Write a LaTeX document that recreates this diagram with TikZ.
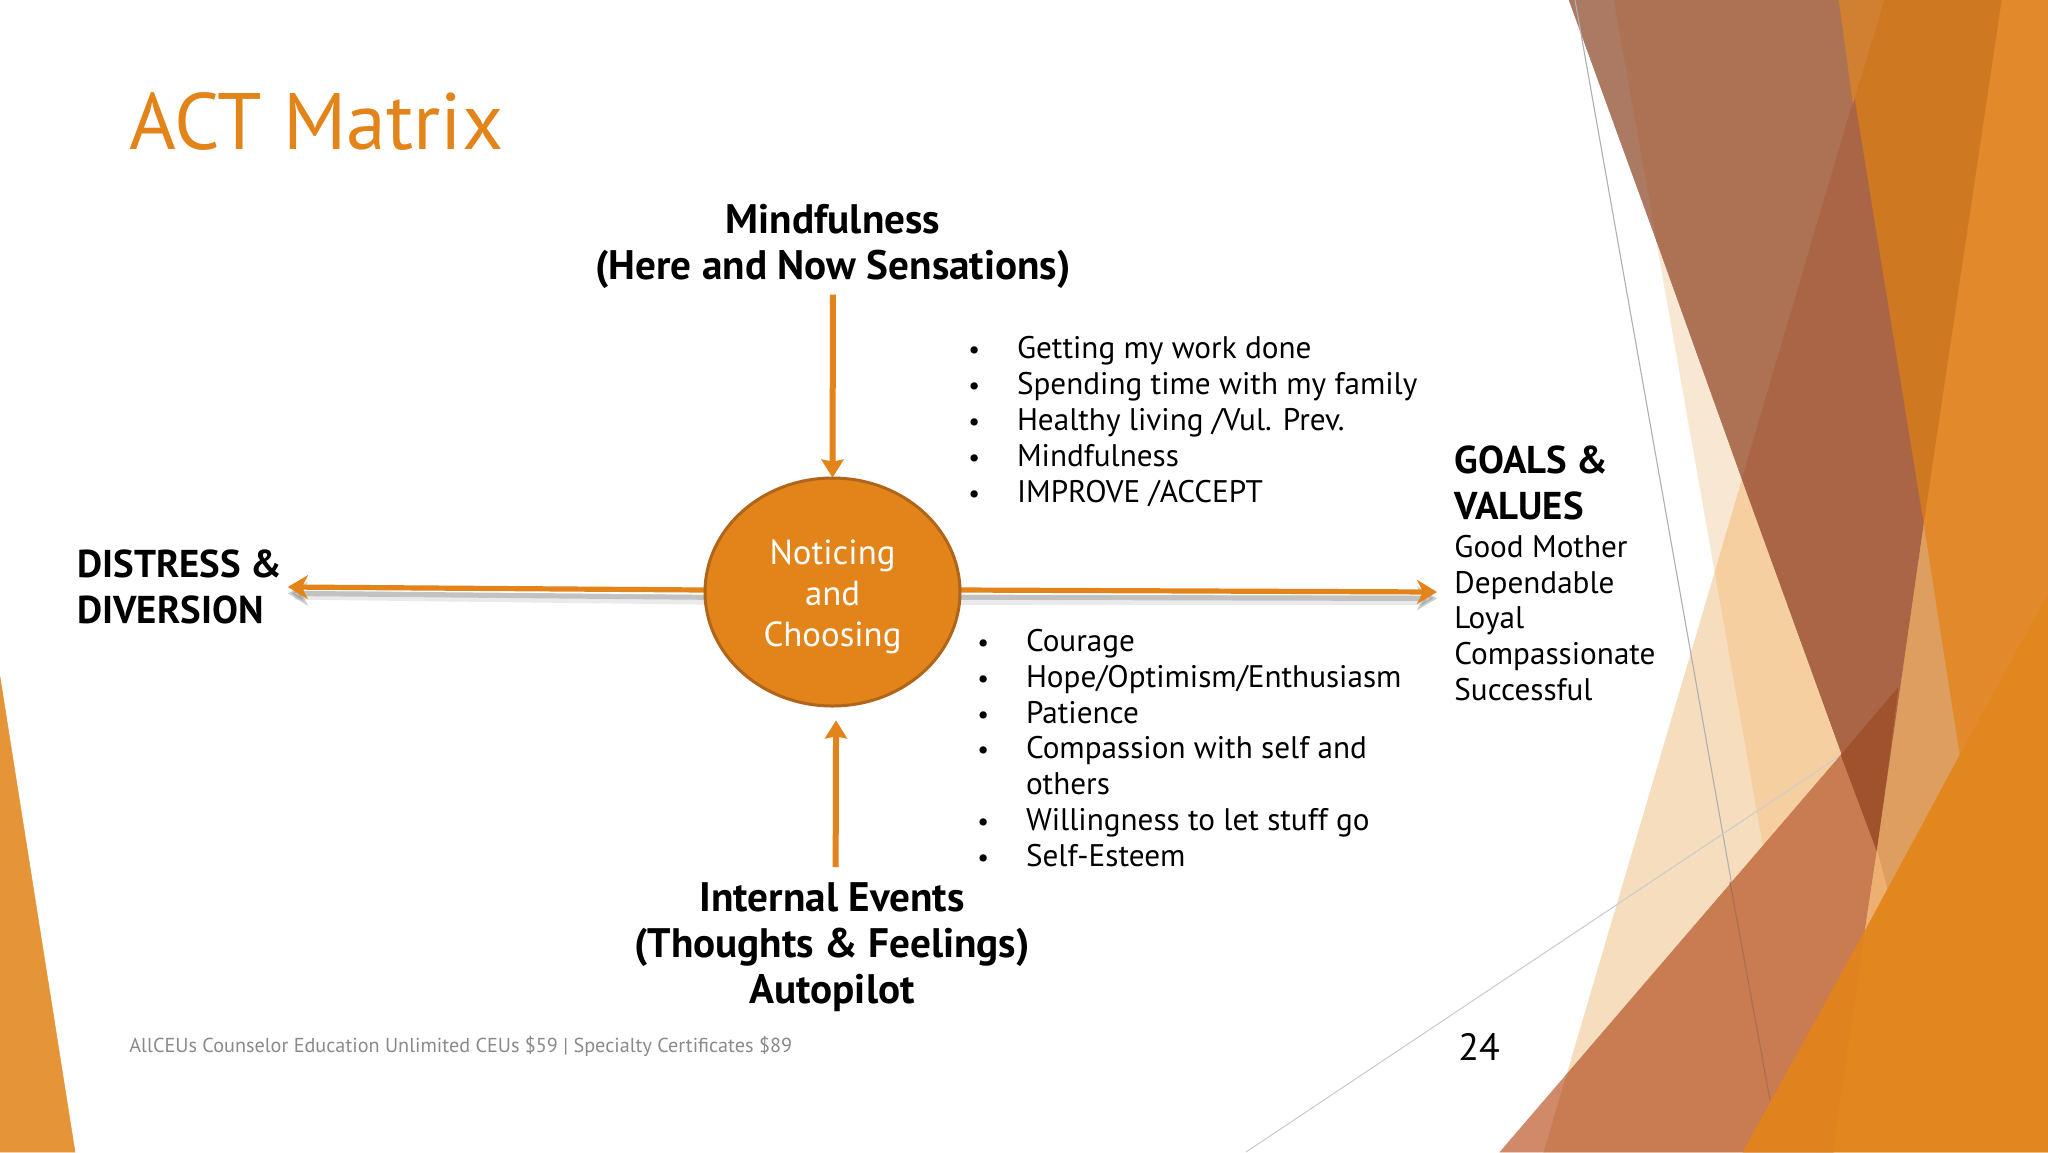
\documentclass[tikz,border=0pt]{standalone}
\usepackage{fontspec}
\setmainfont{PT Sans}
\usetikzlibrary{arrows.meta,calc,shapes.geometric}
\definecolor{acOrange}{HTML}{E28419}
\definecolor{acRing}{HTML}{B0651A}
\definecolor{acFoot}{HTML}{8A8A8A}
\definecolor{dLeft}{RGB}{229,149,55}
\definecolor{dA}{RGB}{248,232,211}
\definecolor{dB}{RGB}{245,221,189}
\definecolor{dAB}{RGB}{245,207,160}
\definecolor{dBrownA}{RGB}{172,122,98}
\definecolor{dBrownB}{RGB}{172,114,83}
\definecolor{dBrownC}{RGB}{170,101,70}
\definecolor{dLow}{RGB}{208,138,106}
\definecolor{dLowB}{RGB}{201,123,82}
\definecolor{dLowDark}{RGB}{160,82,45}
\definecolor{dStrip}{RGB}{222,158,96}
\definecolor{dWedge}{RGB}{237,176,112}
\definecolor{dDarkO}{RGB}{207,120,34}
\definecolor{dDarkOb}{RGB}{208,128,48}
\definecolor{dLightO}{RGB}{226,138,43}
\definecolor{dBotA}{RGB}{224,131,30}
\definecolor{dBotB}{RGB}{226,134,30}
\newlength{\bulw}
\setlength{\bulw}{24.3pt}
\newcommand{\bul}[1]{\makebox[\bulw][l]{{\fontsize{13}{13}\selectfont •}}#1}
\tikzset{
  x=0.5pt,y=-0.5pt,
  pc/.style={fill=#1,draw=#1,line width=.25pt},
  boldlab/.style={font=\fontsize{20.6}{23}\selectfont\bfseries,inner sep=0pt,text=black},
  capslab/.style={font=\fontsize{19.4}{23}\selectfont\bfseries,inner sep=0pt,text=black},
  plainlab/.style={font=\fontsize{15.6}{17.95}\selectfont,inner sep=0pt,text=black,align=left},
  arrowv/.style={draw=acOrange,line width=3pt,-{Stealth[length=9pt,width=11pt,inset=1pt]}},
  arrowh/.style={draw=acOrange,line width=2.6pt,-{Stealth[length=10pt,width=12pt,inset=3pt]}},
  shadowa/.style={draw=black!45,opacity=.42,line width=2.6pt,-{Stealth[length=10pt,width=12pt,inset=3pt]}},
  shadowb/.style={draw=black!45,opacity=.18,line width=4.6pt},
  hair/.style={line width=0.55pt},
}
\begin{document}
\begin{tikzpicture}
\useasboundingbox (0,0) rectangle (2048,1152);
\fill[white] (0,0) rectangle (2048,1152);

% left corner
\path[pc=dLeft] (0,677) -- (75,1152) -- (0,1152) -- cycle;

% right decoration: flat regions, back to front
\path[pc=dA] (1614,0) -- (1883,0) -- (1715,572) -- cycle;
\path[pc=dB] (1715,572) -- (1817,1152) -- (1544,1152) -- cycle;
\path[pc=dAB] (1883,0) -- (2048,0) -- (2048,1152) -- (1817,1152) -- (1715,572) -- cycle;
% brown
\path[pc=dBrownA] (1569,0) -- (1614,0) -- (1657,242) -- cycle;
\path[pc=dBrownB] (1614,0) -- (1883,0) -- (1742,479) -- (1657,242) -- cycle;
\path[pc=dBrownC] (1883,0) -- (2002,0) -- (1877,851) -- (1742,479) -- cycle;
% hairlines
\draw[hair,draw={rgb,255:red,176;green,176;blue,176}] (1575,0) -- (1770,1100);
\draw[hair,draw={rgb,255:red,205;green,205;blue,205}] (1246,1152) -- (1841,755);
% lower brown-orange
\path[pc=dLow] (1500,1152) -- (1544,1152) -- (1567,1074) -- cycle;
\path[pc=dLowB] (1567,1074) -- (1841,755) -- (1877,851) -- (1865,931) -- (1833,1152) -- (1544,1152) -- cycle;
\path[pc=dLowDark] (1841,755) -- (1898,688) -- (1877,851) -- cycle;
\draw[hair,draw={rgb,255:red,170;green,110;blue,80}] (1730,882) -- (1770,1100);
% orange pieces
\path[pc=dStrip] (1924,524) -- (1960,755) -- (1887,889) -- (1877,851) -- cycle;
\path[pc=dWedge] (1877,851) -- (1887,889) -- (1865,931) -- cycle;
\path[pc=dDarkO] (1839,0) -- (2002,0) -- (1924,524) -- cycle;
\path[pc=dDarkOb] (1839,0) -- (1884,0) -- (1853,103) -- cycle;
\path[pc=dLightO] (2002,0) -- (2048,0) -- (2048,594) -- (1960,755) -- (1924,524) -- cycle;
\path[pc=dBotA] (1743,1152) -- (1865,931) -- (1833,1152) -- cycle;
\path[pc=dBotB] (1865,931) -- (1960,755) -- (2048,594) -- (2048,1152) -- (1833,1152) -- cycle;

% title and footer
\node[anchor=base west,inner sep=0pt,text=acOrange,font=\fontsize{40}{44}\selectfont] (title) at (129,149) {ACT Matrix};
\node[anchor=base west,inner sep=0pt,text=acFoot,font=\fontsize{10.1}{12}\selectfont] (foot) at (129,1052) {AllCEUs Counselor Education Unlimited CEUs \$59 | Specialty Certificates \$89};
\node[anchor=base west,inner sep=0pt,text=black,font=\fontsize{19}{24}\selectfont] (pnum) at (1458,1060) {24};

% labels
\node[boldlab,align=center] (mind) at (833,246) {Mindfulness\\(Here and Now Sensations)};
\node[boldlab,align=center] (events) at (832,947) {Internal Events\\(Thoughts \& Feelings)\\Autopilot};
\node[capslab,align=left,anchor=west] (distress) at (77,587) {DISTRESS \&\\DIVERSION};
\node[capslab,align=left,anchor=west] (goals) at (1454,483) {GOALS \&\\VALUES};
\node[plainlab,anchor=west] (goalslist) at (1454,618) {Good Mother\\Dependable\\Loyal\\Compassionate\\Successful};

\node[plainlab,anchor=west] (listtop) at (968,421.5) {\bul{Getting my work done}\\\bul{Spending time with my family}\\\bul{Healthy living /Vul. Prev.}\\\bul{Mindfulness}\\\bul{IMPROVE /ACCEPT}};
\node[plainlab,anchor=west] (listbot) at (977,748) {\bul{Courage}\\\bul{Hope/Optimism/Enthusiasm}\\\bul{Patience}\\\bul{Compassion with self and}\\\hspace*{\bulw}others\\\bul{Willingness to let stuff go}\\\bul{Self-Esteem}};

% centre
\node[shape=ellipse,minimum width=127.5pt,minimum height=114pt,inner sep=0pt,draw=none] (circ) at (832.5,592) {};
\coordinate (rtip) at (1437,592);
% shadows of the horizontal arrows
\path[shadowb] ([yshift=-4pt]circ.west) -- ([yshift=-4pt,xshift=6pt]distress.east);
\path[shadowa] ([yshift=-2.6pt]circ.west) -- ([yshift=-3.2pt,xshift=2.6pt]distress.east);
\path[shadowb] ([yshift=-4pt]circ.east) -- ([yshift=-4pt,xshift=-7pt]rtip);
\path[shadowa] ([yshift=-2.6pt]circ.east) -- ([yshift=-3.2pt]rtip);
% arrows
\draw[arrowv,shorten <=3pt] (mind.south) -- (circ.north);
\draw[arrowv,shorten >=7pt,shorten <=7.5pt] ([xshift=1.8pt]events.north) -- ([xshift=1.8pt]circ.south);
\draw[arrowh] ([yshift=1pt]circ.west) -- ([xshift=2.6pt]distress.east);
\draw[arrowh] ([yshift=1pt]circ.east) -- (rtip);
% circle on top
\node[shape=ellipse,minimum width=127.5pt,minimum height=114pt,inner sep=0pt,draw=acRing,line width=1.5pt,fill=acOrange,text=white,align=center,font=\fontsize{17.4}{20.5}\selectfont] (circtext) at (circ) {\rule{0pt}{17.5pt}Noticing\\and\\Choosing};
\end{tikzpicture}
\end{document}
